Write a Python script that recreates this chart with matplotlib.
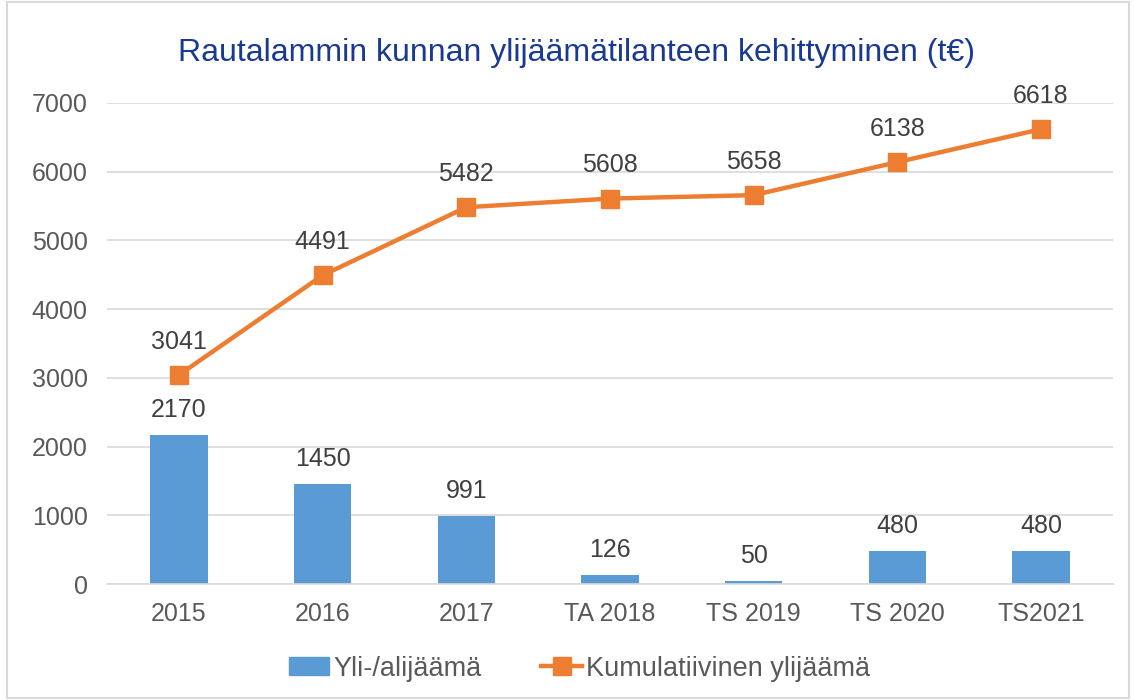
import numpy as np
import matplotlib
matplotlib.use("Agg")
import matplotlib.pyplot as plt
from matplotlib.patches import Rectangle, Patch
from matplotlib.lines import Line2D

plt.rcParams['font.family'] = ['Liberation Sans', 'DejaVu Sans']

categories = ["2015", "2016", "2017", "TA 2018", "TS 2019", "TS 2020", "TS2021"]
surplus = [2170, 1450, 991, 126, 50, 480, 480]
cumulative = [3041, 4491, 5482, 5608, 5658, 6138, 6618]

BLUE = "#5B9BD5"
ORANGE = "#ED7D31"
TXT = "#595959"
LBL = "#404040"

fig = plt.figure(figsize=(11.34, 7.0), dpi=100)
ax = fig.add_axes([0.0944, 0.1657, 0.887, 0.6873])

x = np.arange(len(categories))
ax.bar(x, surplus, width=0.40, color=BLUE, zorder=2)
ax.plot(x, cumulative, color=ORANGE, lw=3.2, marker="s", markersize=12.5, zorder=3)

for xi, v in zip(x, surplus):
    ax.annotate(str(v), (xi, v), xytext=(0, 18), textcoords="offset points",
                ha="center", va="center", fontsize=18, color=LBL)
for xi, v in zip(x, cumulative):
    ax.annotate(str(v), (xi, v), xytext=(0, 24), textcoords="offset points",
                ha="center", va="center", fontsize=18, color=LBL)

ax.set_xlim(-0.5, len(categories) - 0.5)
ax.set_ylim(0, 7000)
ax.set_yticks(range(0, 7001, 1000))
ax.set_xticks(x)
ax.set_xticklabels(categories)
ax.tick_params(axis="both", length=0, labelsize=18, labelcolor=TXT)
ax.tick_params(axis="y", pad=14)
ax.tick_params(axis="x", pad=13)
ax.grid(axis="y", color="#D9D9D9", lw=1.2, zorder=0)
for s in ["top", "right", "left"]:
    ax.spines[s].set_visible(False)
ax.spines["bottom"].set_color("#D9D9D9")
ax.spines["bottom"].set_linewidth(1.2)

fig.text(0.508, 0.924, "Rautalammin kunnan ylijäämätilanteen kehittyminen (t€)",
         ha="center", va="center", fontsize=23, color="#1A3A92")

handles = [Patch(color=BLUE),
           Line2D([], [], color=ORANGE, lw=3.2, marker="s", markersize=12.5)]
labels = ["Yli-/alijäämä", "Kumulatiivinen ylijäämä"]
fig.legend(handles, labels, loc="center", bbox_to_anchor=(0.511, 0.045), ncol=2,
           frameon=False, fontsize=19.5, labelcolor=TXT,
           handlelength=1.5, handleheight=0.65, columnspacing=2.2, handletextpad=0.15)

fig.patches.append(Rectangle((0.006, 0.003), 0.99, 0.994, transform=fig.transFigure,
                             fill=False, edgecolor="#D9D9D9", lw=1.5))

fig.savefig("out.png", dpi=100)
